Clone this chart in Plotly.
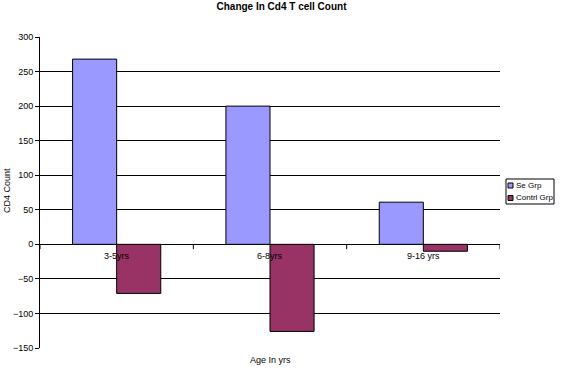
import plotly.graph_objects as go

categories = ["3-5yrs", "6-8yrs", "9-16 yrs"]
se_grp = [268, 200, 61]
contrl_grp = [-71, -126, -10]
y_ticks = [-150, -100, -50, 0, 50, 100, 150, 200, 250, 300]
series_names = ["Se Grp", "Contrl Grp"]
series_colors = ["#9999FF", "#993366"]

FONT = "Liberation Sans, Arial, sans-serif"

W, H = 563, 371
L, R, T, B = 40, 63, 37, 23
PW, PH = W - L - R, H - T - B

fig = go.Figure()
for name, vals, col in zip(series_names, [se_grp, contrl_grp], series_colors):
    fig.add_trace(go.Bar(x=categories, y=vals, name=name, showlegend=False,
                         marker=dict(color=col, line=dict(color="black", width=1))))

# category labels sitting just under the zero line
for c in categories:
    fig.add_annotation(x=c, y=0, xref="x", yref="y", text=c, showarrow=False,
                       yshift=-12, font=dict(size=9, color="black", family=FONT))

# tick marks at category boundaries on the zero line
for b in [-0.5, 0.5, 1.5, 2.5]:
    fig.add_shape(type="line", xref="x", yref="y", x0=b, x1=b, y0=0, y1=-7,
                  line=dict(color="black", width=1))

def px_x(p):
    return (p - L) / PW

def px_y(p):
    return (H - B - p) / PH

# legend box
fig.add_shape(type="rect", xref="paper", yref="paper",
              x0=px_x(506), x1=px_x(554), y0=px_y(204), y1=px_y(179),
              line=dict(color="black", width=1), fillcolor="white")
for i, (name, col) in enumerate(zip(series_names, series_colors)):
    cy = 185.5 + i * 12.5
    fig.add_shape(type="rect", xref="paper", yref="paper",
                  x0=px_x(508), x1=px_x(513), y0=px_y(cy + 2.5), y1=px_y(cy - 2.5),
                  line=dict(color="black", width=1), fillcolor=col)
    fig.add_annotation(x=px_x(514), y=px_y(cy), xref="paper", yref="paper",
                       text=name, showarrow=False, xanchor="left", yanchor="middle",
                       font=dict(size=8, family=FONT, color="black"))

fig.update_layout(
    width=W, height=H,
    margin=dict(l=L, r=R, t=T, b=B, autoexpand=False),
    paper_bgcolor="white", plot_bgcolor="white",
    barmode="group", bargap=0.425, bargroupgap=0,
    font=dict(family=FONT, size=9, color="black"),
    title=dict(text="<b>Change In Cd4 T cell Count</b>", x=0.5, xanchor="center",
               xref="container", yref="container", y=0.992, yanchor="top",
               font=dict(size=10, family=FONT)),
    showlegend=False,
    xaxis=dict(showticklabels=False, showgrid=False, zeroline=False, showline=False,
               ticks="", range=[-0.5, 2.5]),
    yaxis=dict(range=[-150, 300], tickvals=y_ticks, showgrid=True, gridcolor="black",
               gridwidth=1, zeroline=True, zerolinecolor="black", zerolinewidth=1,
               showline=True, linecolor="black", linewidth=1, ticks="outside",
               ticklen=4, tickcolor="black", tickfont=dict(size=9, family=FONT)),
)

fig.add_annotation(x=px_x(7), y=px_y(191), xref="paper", yref="paper", text="CD4 Count",
                   showarrow=False, textangle=-90, xanchor="center", yanchor="middle",
                   font=dict(size=9, family=FONT))
fig.add_annotation(x=0.5, y=px_y(360), xref="paper", yref="paper", text="Age In yrs",
                   showarrow=False, yanchor="middle", font=dict(size=9, family=FONT))

fig.write_html("out.html", config={"displayModeBar": False},
               post_script="document.body.style.margin='0px';document.body.style.overflow='hidden';")
